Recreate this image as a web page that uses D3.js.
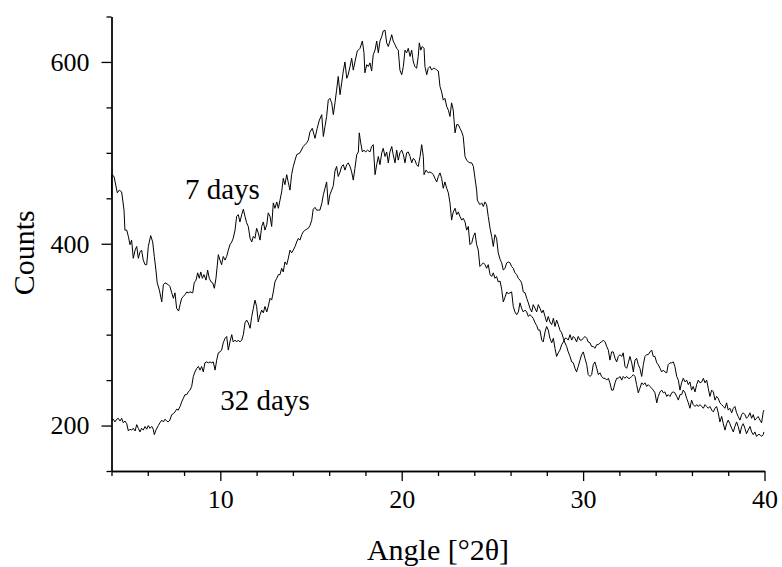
<!DOCTYPE html>
<html>
<head>
<meta charset="utf-8">
<script src="https://cdnjs.cloudflare.com/ajax/libs/d3/7.8.5/d3.min.js"></script>
<style>
  body { margin: 0; background: #fff; }
  svg { display: block; }
</style>
</head>
<body>
<div id="chart"></div>
<script>
// x-ray diffraction scans: [angle in deg 2theta, counts]
var days7 = [[4.00,452],[4.01,476],[4.14,474],[4.32,456],[4.43,459],[4.56,457],[4.69,437],[4.74,415],[4.84,415],[4.93,408],[5.02,399],[5.11,404],[5.20,384],[5.30,393],[5.39,397],[5.48,384],[5.57,391],[5.66,393],[5.75,382],[5.85,377],[5.94,377],[6.03,397],[6.16,409],[6.27,402],[6.36,386],[6.45,371],[6.52,357],[6.64,349],[6.77,336],[6.86,355],[6.95,357],[7.13,355],[7.22,353],[7.32,346],[7.41,340],[7.50,346],[7.59,329],[7.70,326],[7.78,333],[7.87,340],[7.96,342],[8.05,344],[8.15,347],[8.23,346],[8.33,347],[8.48,346],[8.56,357],[8.66,360],[8.75,368],[8.84,362],[8.92,369],[9.01,362],[9.10,366],[9.21,360],[9.30,371],[9.39,362],[9.49,358],[9.58,357],[9.67,351],[9.76,362],[9.89,388],[9.98,382],[10.07,377],[10.16,386],[10.26,382],[10.35,386],[10.44,393],[10.53,399],[10.63,402],[10.71,406],[10.81,415],[10.90,430],[10.99,432],[11.08,424],[11.18,432],[11.27,438],[11.36,430],[11.45,423],[11.54,419],[11.64,406],[11.73,402],[11.82,408],[11.91,406],[12.00,417],[12.09,412],[12.19,404],[12.28,419],[12.37,424],[12.46,415],[12.56,421],[12.64,434],[12.74,430],[12.83,419],[12.92,445],[13.01,439],[13.11,446],[13.20,439],[13.29,448],[13.38,457],[13.47,472],[13.56,465],[13.66,476],[13.75,467],[13.84,459],[13.93,476],[14.02,485],[14.12,492],[14.21,498],[14.39,500],[14.57,507],[14.76,511],[14.85,514],[14.94,523],[15.07,527],[15.22,516],[15.34,527],[15.46,536],[15.59,542],[15.68,518],[15.77,529],[15.86,540],[15.95,558],[16.04,560],[16.14,555],[16.23,542],[16.32,555],[16.41,569],[16.50,584],[16.60,564],[16.69,577],[16.78,590],[16.87,600],[16.97,582],[17.05,586],[17.15,595],[17.24,604],[17.33,591],[17.42,600],[17.55,612],[17.70,615],[17.83,623],[17.92,610],[17.97,588],[18.07,597],[18.16,595],[18.25,599],[18.34,590],[18.43,608],[18.53,613],[18.62,623],[18.71,610],[18.80,623],[18.90,628],[18.98,634],[19.08,635],[19.17,621],[19.26,617],[19.35,623],[19.45,630],[19.53,623],[19.63,619],[19.72,615],[19.81,613],[19.90,591],[20.00,586],[20.09,595],[20.18,613],[20.27,610],[20.36,615],[20.46,606],[20.55,613],[20.64,600],[20.73,595],[20.82,593],[20.91,606],[20.97,621],[21.05,613],[21.13,617],[21.23,615],[21.28,595],[21.38,586],[21.46,593],[21.56,595],[21.65,591],[21.74,593],[21.83,593],[21.93,591],[22.02,590],[22.11,573],[22.20,567],[22.29,558],[22.38,560],[22.48,551],[22.57,547],[22.66,540],[22.75,555],[22.84,547],[22.94,522],[23.03,531],[23.12,531],[23.21,527],[23.31,523],[23.39,518],[23.49,496],[23.58,492],[23.67,490],[23.76,489],[23.86,489],[23.95,485],[24.04,472],[24.13,459],[24.17,448],[24.22,446],[24.31,443],[24.41,445],[24.50,441],[24.59,446],[24.68,443],[24.77,430],[24.87,417],[24.96,408],[25.05,397],[25.14,410],[25.23,406],[25.32,390],[25.42,383],[25.51,379],[25.60,371],[25.69,373],[25.79,379],[25.87,380],[25.97,379],[26.06,375],[26.15,373],[26.24,368],[26.34,366],[26.43,362],[26.52,360],[26.61,357],[26.70,347],[26.80,346],[26.89,340],[26.98,335],[27.07,329],[27.17,325],[27.25,333],[27.35,329],[27.44,325],[27.53,333],[27.62,329],[27.72,324],[27.80,327],[27.90,320],[27.99,314],[28.08,320],[28.17,314],[28.27,311],[28.36,318],[28.45,309],[28.54,316],[28.63,311],[28.72,305],[28.82,302],[28.91,296],[29.00,291],[29.09,287],[29.18,281],[29.28,276],[29.37,270],[29.46,269],[29.55,263],[29.64,259],[29.73,265],[29.83,272],[29.92,278],[30.01,281],[30.10,274],[30.20,267],[30.28,256],[30.38,254],[30.47,256],[30.56,267],[30.65,270],[30.75,263],[30.84,256],[30.93,258],[31.02,254],[31.11,252],[31.21,252],[31.30,250],[31.39,252],[31.48,247],[31.57,239],[31.66,239],[31.76,247],[31.85,252],[31.94,252],[32.03,254],[32.13,250],[32.21,254],[32.31,252],[32.40,254],[32.49,252],[32.58,252],[32.68,254],[32.77,256],[32.86,254],[32.95,245],[33.04,236],[33.13,241],[33.23,247],[33.32,245],[33.41,247],[33.50,243],[33.59,245],[33.69,243],[33.78,241],[33.87,239],[33.96,236],[34.06,225],[34.14,232],[34.24,237],[34.33,239],[34.42,236],[34.51,237],[34.61,232],[34.69,234],[34.79,232],[34.88,236],[34.97,237],[35.06,236],[35.16,232],[35.25,228],[35.34,234],[35.43,234],[35.52,239],[35.62,236],[35.71,230],[35.80,225],[35.89,219],[35.98,228],[36.07,223],[36.17,221],[36.26,223],[36.35,221],[36.44,223],[36.54,221],[36.63,219],[36.72,223],[36.81,221],[36.90,219],[36.99,221],[37.09,217],[37.18,215],[37.27,219],[37.36,221],[37.45,214],[37.54,204],[37.64,210],[37.73,202],[37.82,195],[37.91,202],[38.00,206],[38.09,202],[38.19,197],[38.28,193],[38.37,199],[38.46,204],[38.55,199],[38.65,191],[38.74,199],[38.83,202],[38.92,197],[39.01,191],[39.10,195],[39.20,199],[39.29,193],[39.38,190],[39.47,193],[39.56,188],[39.65,190],[39.75,190],[39.84,188],[39.93,190],[39.97,193]];

var days32 = [[4.01,205],[4.10,207],[4.19,204],[4.29,207],[4.37,208],[4.47,205],[4.56,208],[4.65,203],[4.74,205],[4.84,202],[4.93,194],[5.02,196],[5.11,195],[5.20,197],[5.30,194],[5.39,201],[5.48,197],[5.57,193],[5.66,197],[5.75,195],[5.85,199],[5.94,196],[6.03,200],[6.12,197],[6.22,199],[6.30,196],[6.36,190],[6.45,195],[6.58,200],[6.67,203],[6.77,206],[6.86,204],[6.95,207],[7.04,205],[7.13,204],[7.22,206],[7.32,212],[7.41,213],[7.50,215],[7.59,218],[7.68,217],[7.78,221],[7.87,226],[7.96,230],[8.05,234],[8.15,234],[8.23,237],[8.33,239],[8.42,243],[8.51,254],[8.60,259],[8.70,263],[8.79,265],[8.88,261],[8.97,265],[9.06,259],[9.15,269],[9.25,270],[9.34,269],[9.43,270],[9.52,269],[9.61,270],[9.71,261],[9.80,272],[9.89,280],[9.98,281],[10.07,283],[10.16,291],[10.26,296],[10.35,298],[10.44,283],[10.53,292],[10.63,300],[10.71,292],[10.81,294],[10.90,292],[10.99,294],[11.08,292],[11.18,294],[11.27,300],[11.36,313],[11.45,316],[11.54,313],[11.64,307],[11.73,320],[11.82,329],[11.91,338],[12.00,331],[12.09,314],[12.19,322],[12.28,327],[12.37,324],[12.46,331],[12.56,325],[12.64,331],[12.74,340],[12.83,338],[12.92,347],[13.01,358],[13.11,362],[13.20,366],[13.29,366],[13.38,373],[13.47,369],[13.56,380],[13.66,377],[13.75,384],[13.84,393],[13.93,390],[14.02,393],[14.12,397],[14.21,402],[14.30,406],[14.39,404],[14.49,410],[14.57,413],[14.67,415],[14.76,416],[14.85,417],[14.94,420],[15.04,426],[15.12,438],[15.22,440],[15.31,437],[15.40,437],[15.49,437],[15.59,444],[15.68,454],[15.77,461],[15.86,468],[15.95,443],[16.04,454],[16.14,459],[16.23,464],[16.32,480],[16.41,485],[16.50,474],[16.60,479],[16.69,485],[16.78,487],[16.87,481],[16.97,487],[17.05,489],[17.15,485],[17.24,479],[17.33,470],[17.42,483],[17.52,498],[17.61,501],[17.66,522],[17.74,511],[17.83,501],[17.92,503],[18.01,501],[18.12,503],[18.25,501],[18.34,507],[18.43,509],[18.53,476],[18.62,487],[18.71,496],[18.80,487],[18.90,500],[18.98,505],[19.08,496],[19.17,501],[19.26,489],[19.35,501],[19.45,507],[19.53,498],[19.63,489],[19.72,503],[19.81,492],[19.90,500],[20.00,503],[20.09,498],[20.18,489],[20.27,500],[20.36,501],[20.46,496],[20.55,489],[20.64,494],[20.73,492],[20.82,487],[20.91,485],[21.01,496],[21.10,509],[21.19,496],[21.23,476],[21.34,481],[21.46,478],[21.56,479],[21.65,478],[21.74,476],[21.83,472],[21.93,468],[22.02,474],[22.11,478],[22.20,472],[22.29,461],[22.38,468],[22.48,461],[22.57,456],[22.66,445],[22.75,426],[22.84,435],[22.94,439],[23.03,432],[23.12,435],[23.21,430],[23.31,426],[23.39,428],[23.49,424],[23.58,415],[23.67,419],[23.76,399],[23.86,401],[23.95,408],[24.04,412],[24.13,399],[24.22,393],[24.31,375],[24.41,377],[24.50,379],[24.59,377],[24.68,373],[24.77,377],[24.87,366],[24.96,364],[25.05,368],[25.14,362],[25.23,364],[25.32,358],[25.42,359],[25.51,350],[25.60,336],[25.69,341],[25.79,347],[25.87,345],[25.97,346],[26.06,347],[26.15,331],[26.24,325],[26.34,322],[26.43,325],[26.52,335],[26.61,329],[26.70,325],[26.80,327],[26.89,325],[26.98,320],[27.07,322],[27.17,320],[27.25,318],[27.35,313],[27.44,310],[27.53,305],[27.62,305],[27.72,294],[27.80,292],[27.90,303],[27.99,309],[28.08,305],[28.17,296],[28.27,291],[28.36,296],[28.45,285],[28.54,276],[28.63,280],[28.72,283],[28.82,289],[28.91,292],[29.00,296],[29.09,296],[29.18,294],[29.28,300],[29.37,294],[29.46,298],[29.55,296],[29.64,292],[29.73,298],[29.83,294],[29.92,294],[30.01,296],[30.10,298],[30.20,296],[30.28,292],[30.38,291],[30.47,287],[30.56,287],[30.65,285],[30.75,289],[30.84,289],[30.93,291],[31.02,292],[31.11,294],[31.21,292],[31.30,287],[31.39,283],[31.48,272],[31.57,281],[31.66,281],[31.76,274],[31.85,270],[31.94,276],[32.03,278],[32.13,276],[32.21,280],[32.31,265],[32.40,263],[32.49,269],[32.58,276],[32.68,269],[32.77,259],[32.86,272],[32.95,274],[33.04,267],[33.13,263],[33.23,254],[33.32,267],[33.41,276],[33.50,278],[33.59,278],[33.69,281],[33.78,283],[33.87,276],[33.96,276],[34.06,269],[34.14,267],[34.24,263],[34.33,259],[34.42,261],[34.51,259],[34.61,258],[34.69,267],[34.79,269],[34.88,269],[34.97,270],[35.06,265],[35.16,254],[35.25,250],[35.34,239],[35.43,247],[35.52,252],[35.62,248],[35.71,250],[35.80,245],[35.89,248],[35.98,239],[36.07,243],[36.17,237],[36.26,245],[36.35,250],[36.44,247],[36.54,248],[36.63,252],[36.72,247],[36.81,250],[36.90,241],[36.99,232],[37.09,239],[37.18,237],[37.27,228],[37.36,232],[37.45,230],[37.54,225],[37.64,223],[37.73,221],[37.82,219],[37.91,225],[38.00,217],[38.09,219],[38.19,214],[38.28,219],[38.37,221],[38.46,214],[38.55,210],[38.65,206],[38.74,212],[38.83,214],[38.92,212],[39.01,208],[39.10,210],[39.20,214],[39.29,208],[39.38,212],[39.47,206],[39.56,208],[39.65,210],[39.75,206],[39.84,203],[39.93,215],[39.97,217]];

var xTicks = [10, 20, 30, 40];
var xMinorTicks = [4, 6, 8, 12, 14, 16, 18, 22, 24, 26, 28, 32, 34, 36, 38];
var yTicks = [200, 400, 600];
var yMinorTicks = [150, 250, 300, 350, 450, 500, 550, 650];

var labels = [
  {text: "7 days", angle: 8.05, counts: 449},
  {text: "32 days", angle: 10.0, counts: 217}
];

// set the dimensions and margins of the graph
var margin = {top: 16.5, right: 17.5, bottom: 96, left: 111.5},
    width = 782 - margin.left - margin.right,
    height = 567 - margin.top - margin.bottom;

var svg = d3.select("#chart")
  .append("svg")
    .attr("width", 782)
    .attr("height", 567)
  .append("g")
    .attr("transform", "translate(" + margin.left + "," + margin.top + ")");

var x = d3.scaleLinear()
  .domain([4, 40])
  .range([0, width]);

var y = d3.scaleLinear()
  .domain([150, 650])
  .range([height, 0]);

var font = "'Liberation Serif', 'Times New Roman', serif";

// X axis, minor ticks first then the labelled ones
svg.append("g")
  .attr("transform", "translate(0," + height + ")")
  .call(d3.axisBottom(x).tickValues(xMinorTicks).tickSize(5).tickSizeOuter(0).tickFormat(""));

svg.append("g")
  .attr("class", "xaxis")
  .attr("transform", "translate(0," + height + ")")
  .call(d3.axisBottom(x).tickValues(xTicks).tickSize(10).tickSizeOuter(0).tickPadding(9).tickFormat(d3.format("d")));

// Y axis
svg.append("g")
  .call(d3.axisLeft(y).tickValues(yMinorTicks).tickSize(5).tickSizeOuter(0).tickFormat(""));

svg.append("g")
  .attr("class", "yaxis")
  .call(d3.axisLeft(y).tickValues(yTicks).tickSize(10).tickSizeOuter(0).tickPadding(12).tickFormat(d3.format("d")));

svg.selectAll(".domain, .tick line")
  .attr("stroke", "#000")
  .attr("stroke-width", 1.3);

svg.selectAll(".xaxis text, .yaxis text")
  .style("font-family", font)
  .style("font-size", "26px")
  .attr("fill", "#000");

// the two scans
var line = d3.line()
  .x(function(d) { return x(d[0]); })
  .y(function(d) { return y(d[1]); });

[days7, days32].forEach(function(series) {
  svg.append("path")
    .datum(series)
    .attr("fill", "none")
    .attr("stroke", "#000")
    .attr("stroke-width", 1)
    .attr("d", line);
});

// curve labels
svg.selectAll("text.curve")
  .data(labels)
  .enter()
  .append("text")
    .attr("class", "curve")
    .attr("x", function(d) { return x(d.angle); })
    .attr("y", function(d) { return y(d.counts); })
    .style("font-family", font)
    .style("font-size", "29px")
    .text(function(d) { return d.text; });

// axis titles
svg.append("text")
  .attr("x", width / 2)
  .attr("y", height + 89)
  .attr("text-anchor", "middle")
  .style("font-family", font)
  .style("font-size", "30px")
  .text("Angle [°2θ]");

svg.append("text")
  .attr("transform", "translate(" + (-78) + "," + (y(390)) + ")rotate(-90)")
  .attr("text-anchor", "middle")
  .style("font-family", font)
  .style("font-size", "30px")
  .text("Counts");
</script>
</body>
</html>
